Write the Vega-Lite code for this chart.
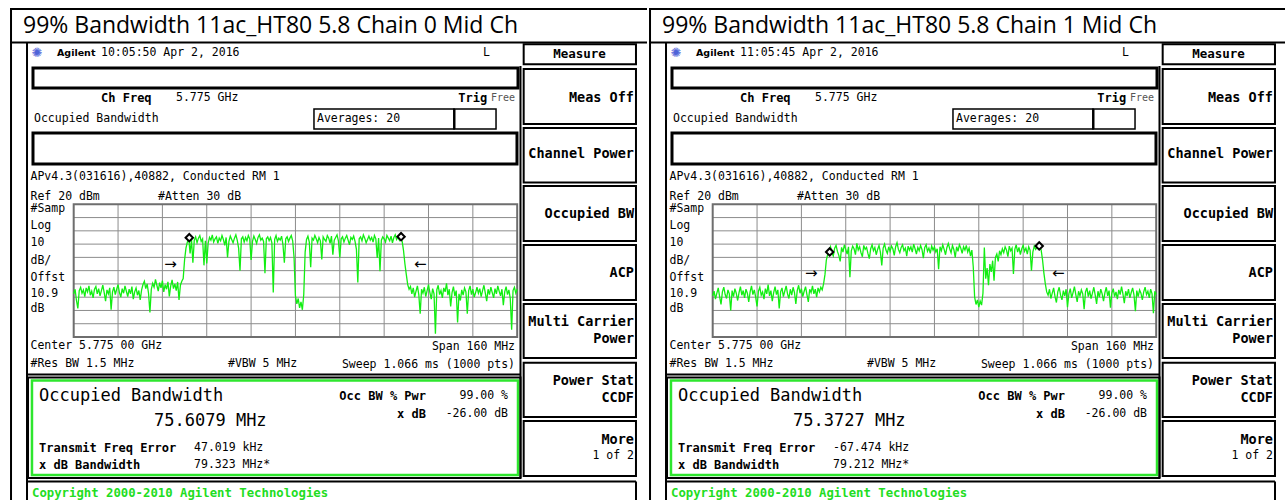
{
"$schema": "https://vega.github.io/schema/vega-lite/v6.json",
"background": "white",
"padding": {"left": 9, "top": 7, "right": 0, "bottom": 0},
"spacing": 0,
"repeat": {"column": ["L", "R"]},
"spec": {
"width": 637,
"height": 493,
"resolve": {"scale": {"x": "independent", "y": "independent"}},
"layer": [
{"layer": [
{"data": {"name": "thin"}, "mark": {"type": "rect", "fill": "white", "stroke": "black", "strokeWidth": 1.5},
 "encoding": {"x": {"field": "x", "type": "quantitative", "scale": {"domain": [0, 100], "nice": false, "zero": false}, "axis": null},
  "x2": {"field": "x2"},
  "y": {"field": "y", "type": "quantitative", "scale": {"domain": [0, 100], "nice": false, "zero": false, "reverse": true}, "axis": null},
  "y2": {"field": "y2"}}},
{"data": {"name": "thick"}, "mark": {"type": "rect", "fill": "white", "stroke": "black", "strokeWidth": 3},
 "encoding": {"x": {"field": "x", "type": "quantitative", "scale": {"domain": [0, 100], "nice": false, "zero": false}, "axis": null},
  "x2": {"field": "x2"},
  "y": {"field": "y", "type": "quantitative", "scale": {"domain": [0, 100], "nice": false, "zero": false, "reverse": true}, "axis": null},
  "y2": {"field": "y2"}}},
{"data": {"name": "keys"}, "mark": {"type": "rect", "filled": false, "color": "black", "strokeWidth": 2},
 "encoding": {"x": {"field": "x", "type": "quantitative", "scale": {"domain": [0, 100], "nice": false, "zero": false}, "axis": null},
  "x2": {"field": "x2"},
  "y": {"field": "y", "type": "quantitative", "scale": {"domain": [0, 100], "nice": false, "zero": false, "reverse": true}, "axis": null},
  "y2": {"field": "y2"}}},
{"data": {"name": "green"}, "mark": {"type": "rect", "filled": false, "color": "#2ee62e", "strokeWidth": 2.5},
 "encoding": {"x": {"field": "x", "type": "quantitative", "scale": {"domain": [0, 100], "nice": false, "zero": false}, "axis": null},
  "x2": {"field": "x2"},
  "y": {"field": "y", "type": "quantitative", "scale": {"domain": [0, 100], "nice": false, "zero": false, "reverse": true}, "axis": null},
  "y2": {"field": "y2"}}},
{"data": {"name": "lines"}, "mark": {"type": "rule", "color": "black", "strokeWidth": 2},
 "encoding": {"x": {"field": "x", "type": "quantitative", "scale": {"domain": [0, 100], "nice": false, "zero": false}, "axis": null},
  "x2": {"field": "x2"},
  "y": {"field": "y", "type": "quantitative", "scale": {"domain": [0, 100], "nice": false, "zero": false, "reverse": true}, "axis": null},
  "y2": {"field": "y2"}}},
{"data": {"name": "title"}, "mark": {"type": "text", "font": "Open Sans", "fontSize": 23, "align": "left", "baseline": "middle", "color": "black"},
 "encoding": {"x": {"field": "x", "type": "quantitative", "scale": {"domain": [0, 100], "nice": false, "zero": false}, "axis": null},
  "y": {"field": "y", "type": "quantitative", "scale": {"domain": [0, 100], "nice": false, "zero": false, "reverse": true}, "axis": null},
  "text": {"field": {"repeat": "column"}, "type": "nominal"}}},
{"data": {"name": "sm"}, "mark": {"type": "text", "font": "DejaVu Sans Mono", "fontSize": 11.5, "align": "left", "baseline": "middle", "color": "black"},
 "encoding": {"x": {"field": "x", "type": "quantitative", "scale": {"domain": [0, 100], "nice": false, "zero": false}, "axis": null},
  "y": {"field": "y", "type": "quantitative", "scale": {"domain": [0, 100], "nice": false, "zero": false, "reverse": true}, "axis": null},
  "text": {"field": {"repeat": "column"}, "type": "nominal"}}},
{"data": {"name": "gray"}, "mark": {"type": "text", "font": "DejaVu Sans Mono", "fontSize": 10, "align": "right", "baseline": "middle", "color": "#555555"},
 "encoding": {"x": {"field": "x", "type": "quantitative", "scale": {"domain": [0, 100], "nice": false, "zero": false}, "axis": null},
  "y": {"field": "y", "type": "quantitative", "scale": {"domain": [0, 100], "nice": false, "zero": false, "reverse": true}, "axis": null},
  "text": {"field": {"repeat": "column"}, "type": "nominal"}}},
{"data": {"name": "smr"}, "mark": {"type": "text", "font": "DejaVu Sans Mono", "fontSize": 11.5, "align": "right", "baseline": "middle", "color": "black"},
 "encoding": {"x": {"field": "x", "type": "quantitative", "scale": {"domain": [0, 100], "nice": false, "zero": false}, "axis": null},
  "y": {"field": "y", "type": "quantitative", "scale": {"domain": [0, 100], "nice": false, "zero": false, "reverse": true}, "axis": null},
  "text": {"field": {"repeat": "column"}, "type": "nominal"}}},
{"data": {"name": "bd"}, "mark": {"type": "text", "font": "DejaVu Sans Mono", "fontSize": 12, "fontWeight": "bold", "align": "left", "baseline": "middle", "color": "black"},
 "encoding": {"x": {"field": "x", "type": "quantitative", "scale": {"domain": [0, 100], "nice": false, "zero": false}, "axis": null},
  "y": {"field": "y", "type": "quantitative", "scale": {"domain": [0, 100], "nice": false, "zero": false, "reverse": true}, "axis": null},
  "text": {"field": {"repeat": "column"}, "type": "nominal"}}},
{"data": {"name": "bdr"}, "mark": {"type": "text", "font": "DejaVu Sans Mono", "fontSize": 12, "fontWeight": "bold", "align": "right", "baseline": "middle", "color": "black"},
 "encoding": {"x": {"field": "x", "type": "quantitative", "scale": {"domain": [0, 100], "nice": false, "zero": false}, "axis": null},
  "y": {"field": "y", "type": "quantitative", "scale": {"domain": [0, 100], "nice": false, "zero": false, "reverse": true}, "axis": null},
  "text": {"field": {"repeat": "column"}, "type": "nominal"}}},
{"data": {"name": "sk"}, "mark": {"type": "text", "font": "DejaVu Sans Mono", "fontSize": 13.5, "fontWeight": "bold", "align": "right", "baseline": "middle", "color": "black"},
 "encoding": {"x": {"field": "x", "type": "quantitative", "scale": {"domain": [0, 100], "nice": false, "zero": false}, "axis": null},
  "y": {"field": "y", "type": "quantitative", "scale": {"domain": [0, 100], "nice": false, "zero": false, "reverse": true}, "axis": null},
  "text": {"field": {"repeat": "column"}, "type": "nominal"}}},
{"data": {"name": "skc"}, "mark": {"type": "text", "font": "DejaVu Sans Mono", "fontSize": 12.5, "fontWeight": "bold", "align": "center", "baseline": "middle", "color": "black"},
 "encoding": {"x": {"field": "x", "type": "quantitative", "scale": {"domain": [0, 100], "nice": false, "zero": false}, "axis": null},
  "y": {"field": "y", "type": "quantitative", "scale": {"domain": [0, 100], "nice": false, "zero": false, "reverse": true}, "axis": null},
  "text": {"field": {"repeat": "column"}, "type": "nominal"}}},
{"data": {"name": "lg"}, "mark": {"type": "text", "font": "DejaVu Sans Mono", "fontSize": 17, "align": "left", "baseline": "middle", "color": "black"},
 "encoding": {"x": {"field": "x", "type": "quantitative", "scale": {"domain": [0, 100], "nice": false, "zero": false}, "axis": null},
  "y": {"field": "y", "type": "quantitative", "scale": {"domain": [0, 100], "nice": false, "zero": false, "reverse": true}, "axis": null},
  "text": {"field": {"repeat": "column"}, "type": "nominal"}}},
{"data": {"name": "cp"}, "mark": {"type": "text", "font": "DejaVu Sans Mono", "fontSize": 12.3, "fontWeight": "bold", "align": "left", "baseline": "middle", "color": "#22dd22"},
 "encoding": {"x": {"field": "x", "type": "quantitative", "scale": {"domain": [0, 100], "nice": false, "zero": false}, "axis": null},
  "y": {"field": "y", "type": "quantitative", "scale": {"domain": [0, 100], "nice": false, "zero": false, "reverse": true}, "axis": null},
  "text": {"field": {"repeat": "column"}, "type": "nominal"}}},
{"data": {"name": "brand"}, "mark": {"type": "text", "font": "DejaVu Sans", "fontSize": 9.5, "fontWeight": "bold", "align": "left", "baseline": "middle", "color": "black"},
 "encoding": {"x": {"field": "x", "type": "quantitative", "scale": {"domain": [0, 100], "nice": false, "zero": false}, "axis": null},
  "y": {"field": "y", "type": "quantitative", "scale": {"domain": [0, 100], "nice": false, "zero": false, "reverse": true}, "axis": null},
  "text": {"field": {"repeat": "column"}, "type": "nominal"}}},
{"data": {"name": "star"}, "mark": {"type": "text", "font": "DejaVu Sans", "fontSize": 13, "align": "center", "baseline": "middle", "color": "#4f63d8"},
 "encoding": {"x": {"field": "x", "type": "quantitative", "scale": {"domain": [0, 100], "nice": false, "zero": false}, "axis": null},
  "y": {"field": "y", "type": "quantitative", "scale": {"domain": [0, 100], "nice": false, "zero": false, "reverse": true}, "axis": null},
  "text": {"field": {"repeat": "column"}, "type": "nominal"}}}
]},
{"layer": [
{"data": {"name": "gv"}, "mark": {"type": "rule", "color": "#8c8c8c", "strokeWidth": 1},
 "encoding": {"x": {"field": "f", "type": "quantitative", "scale": {"domain": [-102.98, 126.83], "nice": false, "zero": false}, "axis": null},
  "y": {"datum": -80, "type": "quantitative", "scale": {"domain": [-203.59, 167.93], "nice": false, "zero": false}, "axis": null},
  "y2": {"datum": 20}}},
{"data": {"name": "gh"}, "mark": {"type": "rule", "color": "#8c8c8c", "strokeWidth": 1},
 "encoding": {"x": {"datum": -80, "type": "quantitative", "scale": {"domain": [-102.98, 126.83], "nice": false, "zero": false}, "axis": null},
  "x2": {"datum": 80},
  "y": {"field": "d", "type": "quantitative", "scale": {"domain": [-203.59, 167.93], "nice": false, "zero": false}, "axis": null}}},
{"data": {"values": [{"frame": "plot"}]}, "mark": {"type": "rect", "filled": false, "color": "#6e6e6e", "strokeWidth": 2},
 "encoding": {"x": {"datum": -80, "type": "quantitative", "scale": {"domain": [-102.98, 126.83], "nice": false, "zero": false}, "axis": null},
  "x2": {"datum": 80},
  "y": {"datum": -80, "type": "quantitative", "scale": {"domain": [-203.59, 167.93], "nice": false, "zero": false}, "axis": null},
  "y2": {"datum": 20}}},
{"data": {"name": "trace"}, "mark": {"type": "line", "color": "#12ee12", "strokeWidth": 1.3},
 "encoding": {"x": {"field": "f", "type": "quantitative", "scale": {"domain": [-102.98, 126.83], "nice": false, "zero": false}, "axis": null},
  "y": {"field": {"repeat": "column"}, "type": "quantitative", "scale": {"domain": [-203.59, 167.93], "nice": false, "zero": false}, "axis": null}}},
{"data": {"name": "mk"}, "mark": {"type": "point", "shape": "diamond", "filled": true, "fill": "white", "stroke": "black", "strokeWidth": 2, "size": 55, "opacity": 1},
 "encoding": {"x": {"field": "f", "type": "quantitative", "scale": {"domain": [-102.98, 126.83], "nice": false, "zero": false}, "axis": null},
  "y": {"field": {"repeat": "column"}, "type": "quantitative", "scale": {"domain": [-203.59, 167.93], "nice": false, "zero": false}, "axis": null}}},
{"data": {"name": "arr"}, "mark": {"type": "text", "font": "DejaVu Sans", "fontSize": 15, "align": "center", "baseline": "middle", "color": "black"},
 "encoding": {"x": {"field": "f", "type": "quantitative", "scale": {"domain": [-102.98, 126.83], "nice": false, "zero": false}, "axis": null},
  "y": {"field": {"repeat": "column"}, "type": "quantitative", "scale": {"domain": [-203.59, 167.93], "nice": false, "zero": false}, "axis": null},
  "text": {"field": "t", "type": "nominal"}}}
]}
]
},
"datasets": {
"thin": [
{"x": 47.72, "x2": 69.70, "y": 20.49, "y2": 24.54},
{"x": 69.70, "x2": 76.30, "y": 20.49, "y2": 24.54}
],
"thick": [
{"x": 3.61, "x2": 79.75, "y": 12.17, "y2": 16.23},
{"x": 3.61, "x2": 79.59, "y": 25.35, "y2": 31.64}
],
"keys": [
{"x": 2.83, "x2": 80.14, "y": 74.95, "y2": 95.33},
{"x": 80.64, "x2": 98.27, "y": 7.36, "y2": 11.42},
{"x": 80.64, "x2": 98.27, "y": 12.37, "y2": 23.53},
{"x": 80.64, "x2": 98.27, "y": 24.34, "y2": 35.40},
{"x": 80.64, "x2": 98.27, "y": 36.11, "y2": 47.26},
{"x": 80.64, "x2": 98.27, "y": 48.07, "y2": 59.23},
{"x": 80.64, "x2": 98.27, "y": 60.04, "y2": 70.99},
{"x": 80.64, "x2": 98.27, "y": 71.95, "y2": 82.96},
{"x": 80.64, "x2": 98.27, "y": 83.77, "y2": 94.93}
],
"green": [
{"x": 3.45, "x2": 79.75, "y": 75.56, "y2": 94.73}
],
"lines": [
{"x": 0, "x2": 100, "y": 0.2, "y2": 0.2},
{"x": 0, "x2": 100, "y": 7.0, "y2": 7.0},
{"x": 0.16, "x2": 0.16, "y": 0, "y2": 100},
{"x": 2.67, "x2": 2.67, "y": 7.1, "y2": 100},
{"x": 80.14, "x2": 80.14, "y": 11.76, "y2": 95.33},
{"x": 2.83, "x2": 80.14, "y": 74.34, "y2": 74.34},
{"x": 2.83, "x2": 98.27, "y": 96.04, "y2": 96.04},
{"x": 98.27, "x2": 98.27, "y": 96.04, "y2": 100},
{"x": 69.78, "x2": 69.78, "y": 20.49, "y2": 24.54}
],
"title": [
{"x": 2.04, "y": 3.55, "L": "99% Bandwidth 11ac_HT80 5.8 Chain 0 Mid Ch", "R": "99% Bandwidth 11ac_HT80 5.8 Chain 1 Mid Ch"}
],
"sm": [
{"x": 14.29, "y": 9.13, "L": "10:05:50 Apr 2, 2016", "R": "11:05:45 Apr 2, 2016"},
{"x": 74.25, "y": 9.13, "L": "L", "R": "L"},
{"x": 26.06, "y": 18.26, "L": "5.775 GHz", "R": "5.775 GHz"},
{"x": 3.77, "y": 22.52, "L": "Occupied Bandwidth", "R": "Occupied Bandwidth"},
{"x": 48.19, "y": 22.52, "L": "Averages: 20", "R": "Averages: 20"},
{"x": 3.22, "y": 34.28, "L": "APv4.3(031616),40882, Conducted RM 1", "R": "APv4.3(031616),40882, Conducted RM 1"},
{"x": 3.22, "y": 38.34, "L": "Ref 20 dBm", "R": "Ref 20 dBm"},
{"x": 23.23, "y": 38.34, "L": "#Atten 30 dB", "R": "#Atten 30 dB"},
{"x": 3.22, "y": 40.77, "L": "#Samp", "R": "#Samp"},
{"x": 3.22, "y": 44.22, "L": "Log", "R": "Log"},
{"x": 3.22, "y": 47.67, "L": "10", "R": "10"},
{"x": 3.22, "y": 51.32, "L": "dB/", "R": "dB/"},
{"x": 3.22, "y": 54.77, "L": "Offst", "R": "Offst"},
{"x": 3.22, "y": 58.01, "L": "10.9", "R": "10.9"},
{"x": 3.22, "y": 61.05, "L": "dB", "R": "dB"},
{"x": 3.22, "y": 68.56, "L": "Center 5.775 00 GHz", "R": "Center 5.775 00 GHz"},
{"x": 3.22, "y": 72.21, "L": "#Res BW 1.5 MHz", "R": "#Res BW 1.5 MHz"},
{"x": 34.22, "y": 72.21, "L": "#VBW 5 MHz", "R": "#VBW 5 MHz"},
{"x": 28.89, "y": 89.25, "L": "47.019 kHz", "R": "-67.474 kHz"},
{"x": 28.89, "y": 92.70, "L": "79.323 MHz*", "R": "79.212 MHz*"}
],
"gray": [
{"x": 79.28, "y": 18.26, "L": "Free", "R": "Free"}
],
"smr": [
{"x": 79.28, "y": 68.76, "L": "Span 160 MHz", "R": "Span 160 MHz"},
{"x": 79.28, "y": 72.41, "L": "Sweep 1.066 ms (1000 pts)", "R": "Sweep 1.066 ms (1000 pts)"},
{"x": 78.18, "y": 78.70, "L": "99.00 %", "R": "99.00 %"},
{"x": 78.18, "y": 82.35, "L": "-26.00 dB", "R": "-26.00 dB"},
{"x": 97.96, "y": 90.87, "L": "1 of 2", "R": "1 of 2"}
],
"bd": [
{"x": 14.29, "y": 18.26, "L": "Ch Freq", "R": "Ch Freq"},
{"x": 4.55, "y": 89.25, "L": "Transmit Freq Error", "R": "Transmit Freq Error"},
{"x": 4.55, "y": 92.70, "L": "x dB Bandwidth", "R": "x dB Bandwidth"}
],
"bdr": [
{"x": 74.9, "y": 18.26, "L": "Trig", "R": "Trig"},
{"x": 65.31, "y": 78.70, "L": "Occ BW % Pwr", "R": "Occ BW % Pwr"},
{"x": 65.31, "y": 82.35, "L": "x dB", "R": "x dB"}
],
"sk": [
{"x": 97.96, "y": 18.19, "L": "Meas Off", "R": "Meas Off"},
{"x": 97.96, "y": 29.61, "L": "Channel Power", "R": "Channel Power"},
{"x": 97.96, "y": 41.72, "L": "Occupied BW", "R": "Occupied BW"},
{"x": 97.96, "y": 53.69, "L": "ACP", "R": "ACP"},
{"x": 97.96, "y": 63.69, "L": "Multi Carrier", "R": "Multi Carrier"},
{"x": 97.96, "y": 67.04, "L": "Power", "R": "Power"},
{"x": 97.96, "y": 75.66, "L": "Power Stat", "R": "Power Stat"},
{"x": 97.96, "y": 79.11, "L": "CCDF", "R": "CCDF"},
{"x": 97.96, "y": 87.53, "L": "More", "R": "More"}
],
"skc": [
{"x": 89.40, "y": 9.43, "L": "Measure", "R": "Measure"}
],
"lg": [
{"x": 4.55, "y": 78.70, "L": "Occupied Bandwidth", "R": "Occupied Bandwidth"},
{"x": 22.61, "y": 83.77, "L": "75.6079 MHz", "R": "75.3727 MHz"}
],
"cp": [
{"x": 3.45, "y": 98.38, "L": "Copyright 2000-2010 Agilent Technologies", "R": "Copyright 2000-2010 Agilent Technologies"}
],
"brand": [
{"x": 7.38, "y": 9.13, "L": "Agilent", "R": "Agilent"}
],
"star": [
{"x": 4.24, "y": 9.13, "L": "✺", "R": "✺"}
],
"gv": [{"f": -64}, {"f": -48}, {"f": -32}, {"f": -16}, {"f": 0}, {"f": 16}, {"f": 32}, {"f": 48}, {"f": 64}],
"gh": [{"d": 10}, {"d": 0}, {"d": -10}, {"d": -20}, {"d": -30}, {"d": -40}, {"d": -50}, {"d": -60}, {"d": -70}],
"mk": [
{"f": -38.3, "L": -5.2, "R": null},
{"f": 38.1, "L": -4.4, "R": null},
{"f": -37.8, "L": null, "R": -15.9},
{"f": 37.8, "L": null, "R": -11.4}
],
"arr": [
{"f": -45.1, "L": -24.8, "R": null, "t": "→"},
{"f": 45.0, "L": -24.8, "R": null, "t": "←"},
{"f": -44.4, "L": null, "R": -32.0, "t": "→"},
{"f": 44.7, "L": null, "R": -32.0, "t": "←"}
],
"trace": [
{"f":-80,"L":-47.5,"R":-49},{"f":-79.5,"L":-44,"R":-45.5},{"f":-79,"L":-52.5,"R":-51.5},{"f":-78.5,"L":-58.5,"R":-47},{"f":-78,"L":-45,"R":-43},
{"f":-77.5,"L":-42.5,"R":-49.5},{"f":-77,"L":-47,"R":-55.5},{"f":-76.5,"L":-44.5,"R":-46},{"f":-76,"L":-49.5,"R":-42.5},{"f":-75.5,"L":-43,"R":-48},
{"f":-75,"L":-46,"R":-51},{"f":-74.5,"L":-41.5,"R":-44.5},{"f":-74,"L":-48.5,"R":-47.5},{"f":-73.5,"L":-45.5,"R":-60},{"f":-73,"L":-50.5,"R":-45},
{"f":-72.5,"L":-44,"R":-49.5},{"f":-72,"L":-42,"R":-43.5},{"f":-71.5,"L":-47.5,"R":-47},{"f":-71,"L":-43.5,"R":-52.5},{"f":-70.5,"L":-49,"R":-46.5},
{"f":-70,"L":-45,"R":-42},{"f":-69.5,"L":-41,"R":-48.5},{"f":-69,"L":-46.5,"R":-45},{"f":-68.5,"L":-53,"R":-50.5},{"f":-68,"L":-44.5,"R":-44},
{"f":-67.5,"L":-47.5,"R":-47},{"f":-67,"L":-43,"R":-53.5},{"f":-66.5,"L":-59.5,"R":-46},{"f":-66,"L":-46,"R":-41.5},{"f":-65.5,"L":-42.5,"R":-48},
{"f":-65,"L":-48,"R":-44.5},{"f":-64.5,"L":-44,"R":-50},{"f":-64,"L":-40.5,"R":-57},{"f":-63.5,"L":-46.5,"R":-45.5},{"f":-63,"L":-50,"R":-42.5},
{"f":-62.5,"L":-43.5,"R":-48.5},{"f":-62,"L":-47,"R":-46},{"f":-61.5,"L":-41.5,"R":-51.5},{"f":-61,"L":-45.5,"R":-43.5},{"f":-60.5,"L":-49.5,"R":-47.5},
{"f":-60,"L":-44,"R":-40.5},{"f":-59.5,"L":-47.5,"R":-49},{"f":-59,"L":-42,"R":-45},{"f":-58.5,"L":-51.5,"R":-53},{"f":-58,"L":-46,"R":-46.5},
{"f":-57.5,"L":-43,"R":-42},{"f":-57,"L":-48.5,"R":-48},{"f":-56.5,"L":-45,"R":-44.5},{"f":-56,"L":-52,"R":-58.5},{"f":-55.5,"L":-44.5,"R":-46},
{"f":-55,"L":-40.5,"R":-43},{"f":-54.5,"L":-38,"R":-49.5},{"f":-54,"L":-43.5,"R":-45.5},{"f":-53.5,"L":-40,"R":-41.5},{"f":-53,"L":-47,"R":-47.5},
{"f":-52.5,"L":-61.5,"R":-51},{"f":-52,"L":-44,"R":-44},{"f":-51.5,"L":-39.5,"R":-48.5},{"f":-51,"L":-42.5,"R":-42.5},{"f":-50.5,"L":-36.5,"R":-46.5},
{"f":-50,"L":-41,"R":-55},{"f":-49.5,"L":-45.5,"R":-45},{"f":-49,"L":-39,"R":-41},{"f":-48.5,"L":-43,"R":-47},{"f":-48,"L":-37.5,"R":-43.5},
{"f":-47.5,"L":-46,"R":-49.5},{"f":-47,"L":-40.5,"R":-45.5},{"f":-46.5,"L":-44,"R":-42},{"f":-46,"L":-38.5,"R":-48},{"f":-45.5,"L":-49.5,"R":-53.5},
{"f":-45,"L":-41.5,"R":-44},{"f":-44.5,"L":-37,"R":-46.5},{"f":-44,"L":-43.5,"R":-41.5},{"f":-43.5,"L":-40,"R":-47.5},{"f":-43,"L":-45,"R":-44},
{"f":-42.5,"L":-38.5,"R":-50},{"f":-42,"L":-52,"R":-43},{"f":-41.5,"L":-41,"R":-46},{"f":-41,"L":-38,"R":-42.5},{"f":-40.5,"L":-36,"R":-44.5},
{"f":-40,"L":-22,"R":-40},{"f":-39.5,"L":-13,"R":-33},{"f":-39,"L":-8.5,"R":-22},{"f":-38.5,"L":-5.5,"R":-17.5},{"f":-38,"L":-17,"R":-15.5},
{"f":-37.5,"L":-6.5,"R":-12},{"f":-37,"L":-24,"R":-16.5},{"f":-36.5,"L":-7,"R":-19},{"f":-36,"L":-4.5,"R":-13},{"f":-35.5,"L":-9,"R":-11},
{"f":-35,"L":-5.5,"R":-15.5},{"f":-34.5,"L":-3.5,"R":-18.5},{"f":-34,"L":-8,"R":-23},{"f":-33.5,"L":-6,"R":-12.5},{"f":-33,"L":-26,"R":-16},
{"f":-32.5,"L":-7.5,"R":-10.5},{"f":-32,"L":-24.5,"R":-14},{"f":-31.5,"L":-9.5,"R":-17.5},{"f":-31,"L":-5,"R":-12},{"f":-30.5,"L":-7,"R":-35},
{"f":-30,"L":-3,"R":-15},{"f":-29.5,"L":-8.5,"R":-11.5},{"f":-29,"L":-6,"R":-13.5},{"f":-28.5,"L":-4.5,"R":-18},{"f":-28,"L":-9.5,"R":-9.5},
{"f":-27.5,"L":-5.5,"R":-14.5},{"f":-27,"L":-7.5,"R":-12},{"f":-26.5,"L":-3.5,"R":-16.5},{"f":-26,"L":-6.5,"R":-19.5},{"f":-25.5,"L":-11,"R":-11},
{"f":-25,"L":-5,"R":-14},{"f":-24.5,"L":-20,"R":-12.5},{"f":-24,"L":-8,"R":-17},{"f":-23.5,"L":-4,"R":-21},{"f":-23,"L":-6.5,"R":-13.5},
{"f":-22.5,"L":-9,"R":-10.5},{"f":-22,"L":-5.5,"R":-15},{"f":-21.5,"L":-3,"R":-12.5},{"f":-21,"L":-7,"R":-18},{"f":-20.5,"L":-13,"R":-14},
{"f":-20,"L":-30,"R":-11},{"f":-19.5,"L":-6,"R":-16},{"f":-19,"L":-4.5,"R":-26},{"f":-18.5,"L":-8.5,"R":-13},{"f":-18,"L":-5,"R":-10},
{"f":-17.5,"L":-7.5,"R":-14.5},{"f":-17,"L":-3.5,"R":-17},{"f":-16.5,"L":-6,"R":-12},{"f":-16,"L":-22,"R":-15.5},{"f":-15.5,"L":-8,"R":-11.5},
{"f":-15,"L":-4,"R":-13.5},{"f":-14.5,"L":-6.5,"R":-18.5},{"f":-14,"L":-9.5,"R":-12},{"f":-13.5,"L":-5,"R":-9},{"f":-13,"L":-3,"R":-14},
{"f":-12.5,"L":-7,"R":-16.5},{"f":-12,"L":-5.5,"R":-12.5},{"f":-11.5,"L":-8,"R":-10.5},{"f":-11,"L":-32,"R":-15},{"f":-10.5,"L":-6,"R":-13},
{"f":-10,"L":-4.5,"R":-19},{"f":-9.5,"L":-7.5,"R":-11.5},{"f":-9,"L":-5,"R":-14.5},{"f":-8.5,"L":-9,"R":-12},{"f":-8,"L":-46.5,"R":-16},
{"f":-7.5,"L":-6.5,"R":-10},{"f":-7,"L":-3.5,"R":-13.5},{"f":-6.5,"L":-8,"R":-17.5},{"f":-6,"L":-5.5,"R":-12.5},{"f":-5.5,"L":-7,"R":-15},
{"f":-5,"L":-4,"R":-11},{"f":-4.5,"L":-10.5,"R":-14},{"f":-4,"L":-24,"R":-20.5},{"f":-3.5,"L":-6,"R":-12.5},{"f":-3,"L":-4.5,"R":-10.5},
{"f":-2.5,"L":-8,"R":-15.5},{"f":-2,"L":-5.5,"R":-13},{"f":-1.5,"L":-3.5,"R":-17},{"f":-1,"L":-7.5,"R":-11.5},{"f":-0.5,"L":-20,"R":-14.5},
{"f":0,"L":-49,"R":-12},{"f":0.5,"L":-55,"R":-16},{"f":1,"L":-51,"R":-13.5},{"f":1.5,"L":-58,"R":-29},{"f":2,"L":-53.5,"R":-12},
{"f":2.5,"L":-59.5,"R":-15},{"f":3,"L":-48,"R":-10.5},{"f":3.5,"L":-16,"R":-14},{"f":4,"L":-6.5,"R":-18},{"f":4.5,"L":-4,"R":-12.5},
{"f":5,"L":-8.5,"R":-9.5},{"f":5.5,"L":-27.5,"R":-13.5},{"f":6,"L":-5.5,"R":-16.5},{"f":6.5,"L":-7,"R":-11},{"f":7,"L":-3.5,"R":-14},
{"f":7.5,"L":-6,"R":-20},{"f":8,"L":-9,"R":-12},{"f":8.5,"L":-5,"R":-15.5},{"f":9,"L":-7.5,"R":-10.5},{"f":9.5,"L":-21.5,"R":-13},
{"f":10,"L":-4.5,"R":-17},{"f":10.5,"L":-6.5,"R":-12},{"f":11,"L":-8,"R":-14.5},{"f":11.5,"L":-3.5,"R":-11},{"f":12,"L":-5.5,"R":-16},
{"f":12.5,"L":-9.5,"R":-13},{"f":13,"L":-4,"R":-19},{"f":13.5,"L":-18,"R":-14.5},{"f":14,"L":-7,"R":-27},{"f":14.5,"L":-5,"R":-50},
{"f":15,"L":-3,"R":-55.5},{"f":15.5,"L":-7.5,"R":-52},{"f":16,"L":-20,"R":-57.5},{"f":16.5,"L":-6,"R":-53},{"f":17,"L":-4.5,"R":-56},
{"f":17.5,"L":-8.5,"R":-47},{"f":18,"L":-5.5,"R":-12.5},{"f":18.5,"L":-3.5,"R":-36},{"f":19,"L":-7,"R":-28},{"f":19.5,"L":-10.5,"R":-41},
{"f":20,"L":-5,"R":-25},{"f":20.5,"L":-6.5,"R":-31},{"f":21,"L":-4,"R":-22.5},{"f":21.5,"L":-8,"R":-37.5},{"f":22,"L":-14,"R":-20},
{"f":22.5,"L":-39,"R":-17.5},{"f":23,"L":-6,"R":-23},{"f":23.5,"L":-4.5,"R":-15},{"f":24,"L":-7.5,"R":-18},{"f":24.5,"L":-3,"R":-13.5},
{"f":25,"L":-5.5,"R":-16.5},{"f":25.5,"L":-9,"R":-12},{"f":26,"L":-6.5,"R":-14.5},{"f":26.5,"L":-4,"R":-19.5},{"f":27,"L":-7,"R":-11.5},
{"f":27.5,"L":-5,"R":-15},{"f":28,"L":-8.5,"R":-13},{"f":28.5,"L":-3.5,"R":-32.5},{"f":29,"L":-6,"R":-14},{"f":29.5,"L":-20.5,"R":-10.5},
{"f":30,"L":-5.5,"R":-16},{"f":30.5,"L":-30.5,"R":-12.5},{"f":31,"L":-7,"R":-18},{"f":31.5,"L":-4.5,"R":-13.5},{"f":32,"L":-6,"R":-11},
{"f":32.5,"L":-8.5,"R":-15.5},{"f":33,"L":-3.5,"R":-13},{"f":33.5,"L":-5.5,"R":-17.5},{"f":34,"L":-7.5,"R":-12},{"f":34.5,"L":-4,"R":-14.5},
{"f":35,"L":-9,"R":-30},{"f":35.5,"L":-5,"R":-16},{"f":36,"L":-3,"R":-11.5},{"f":36.5,"L":-6.5,"R":-14},{"f":37,"L":-4.5,"R":-12.5},
{"f":37.5,"L":-7,"R":-10.5},{"f":38,"L":-3.5,"R":-11.5},{"f":38.5,"L":-8,"R":-14.5},{"f":39,"L":-15,"R":-22},{"f":39.5,"L":-25,"R":-32},
{"f":40,"L":-33,"R":-40},{"f":40.5,"L":-40.5,"R":-46},{"f":41,"L":-44,"R":-48.5},{"f":41.5,"L":-42,"R":-44},{"f":42,"L":-47.5,"R":-51},
{"f":42.5,"L":-43,"R":-47},{"f":43,"L":-50,"R":-43},{"f":43.5,"L":-45.5,"R":-49.5},{"f":44,"L":-41.5,"R":-54},{"f":44.5,"L":-48,"R":-46},
{"f":45,"L":-62.5,"R":-42.5},{"f":45.5,"L":-44,"R":-48.5},{"f":46,"L":-47,"R":-52},{"f":46.5,"L":-42.5,"R":-45},{"f":47,"L":-49.5,"R":-49},
{"f":47.5,"L":-45,"R":-44},{"f":48,"L":-40.5,"R":-57.5},{"f":48.5,"L":-46.5,"R":-47.5},{"f":49,"L":-51.5,"R":-43.5},{"f":49.5,"L":-43.5,"R":-50.5},
{"f":50,"L":-47.5,"R":-46.5},{"f":50.5,"L":-77.5,"R":-42},{"f":51,"L":-44.5,"R":-48},{"f":51.5,"L":-41,"R":-53.5},{"f":52,"L":-48,"R":-45.5},
{"f":52.5,"L":-45,"R":-49},{"f":53,"L":-50.5,"R":-44.5},{"f":53.5,"L":-43,"R":-47.5},{"f":54,"L":-46,"R":-59},{"f":54.5,"L":-39.5,"R":-46},
{"f":55,"L":-48.5,"R":-43},{"f":55.5,"L":-44,"R":-49.5},{"f":56,"L":-57,"R":-45},{"f":56.5,"L":-46.5,"R":-51},{"f":57,"L":-42,"R":-47},
{"f":57.5,"L":-49,"R":-42.5},{"f":58,"L":-45,"R":-48.5},{"f":58.5,"L":-69,"R":-55},{"f":59,"L":-47.5,"R":-45.5},{"f":59.5,"L":-52.5,"R":-50},
{"f":60,"L":-44.5,"R":-44},{"f":60.5,"L":-48.5,"R":-47.5},{"f":61,"L":-43,"R":-53},{"f":61.5,"L":-46,"R":-46.5},{"f":62,"L":-62.5,"R":-42.5},
{"f":62.5,"L":-45,"R":-49},{"f":63,"L":-41.5,"R":-45},{"f":63.5,"L":-48,"R":-58},{"f":64,"L":-44,"R":-47},{"f":64.5,"L":-50,"R":-43.5},
{"f":65,"L":-46.5,"R":-49.5},{"f":65.5,"L":-42.5,"R":-46},{"f":66,"L":-47,"R":-51.5},{"f":66.5,"L":-43.5,"R":-44.5},{"f":67,"L":-49.5,"R":-48},
{"f":67.5,"L":-45,"R":-42},{"f":68,"L":-41,"R":-47.5},{"f":68.5,"L":-47,"R":-54.5},{"f":69,"L":-53,"R":-45.5},{"f":69.5,"L":-44,"R":-49},
{"f":70,"L":-48,"R":-44},{"f":70.5,"L":-42.5,"R":-50.5},{"f":71,"L":-46.5,"R":-46.5},{"f":71.5,"L":-50.5,"R":-43},{"f":72,"L":-43.5,"R":-48.5},
{"f":72.5,"L":-47.5,"R":-60.5},{"f":73,"L":-41.5,"R":-45},{"f":73.5,"L":-45.5,"R":-49.5},{"f":74,"L":-49,"R":-44.5},{"f":74.5,"L":-44,"R":-47},
{"f":75,"L":-56,"R":-52},{"f":75.5,"L":-46,"R":-46},{"f":76,"L":-42,"R":-42.5},{"f":76.5,"L":-48,"R":-48},{"f":77,"L":-44.5,"R":-45.5},
{"f":77.5,"L":-51,"R":-50.5},{"f":78,"L":-74.5,"R":-44},{"f":78.5,"L":-45,"R":-47.5},{"f":79,"L":-42.5,"R":-62},{"f":79.5,"L":-47,"R":-45.5},
{"f":80,"L":-44,"R":-48}
]
},
"config": {"view": {"stroke": null}}
}
